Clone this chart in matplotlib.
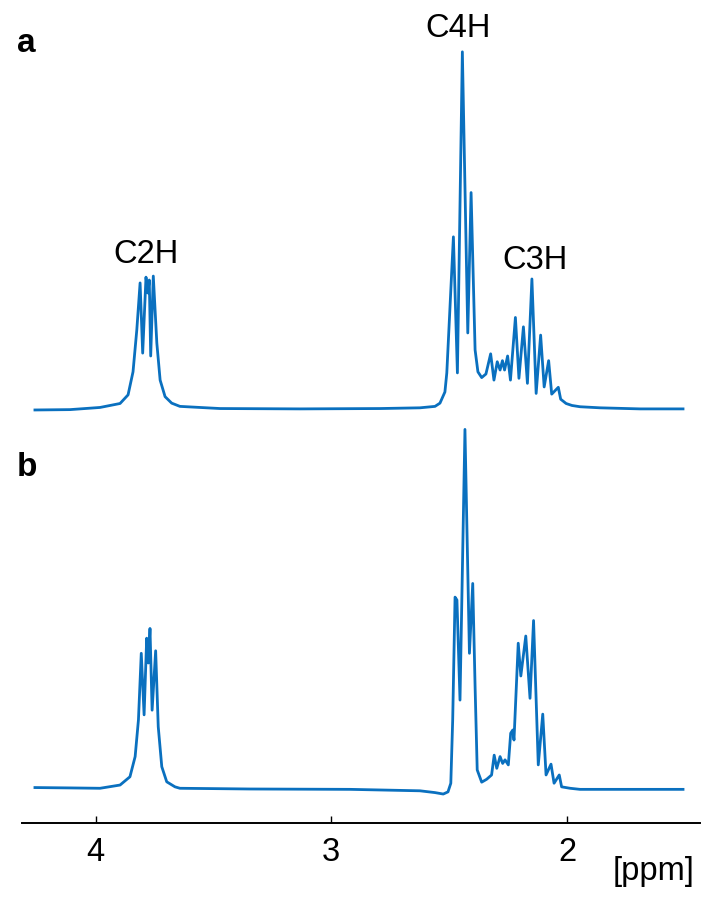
"""
Two stacked 1H NMR spectra (a, b), 1.5-4.3 ppm, C2H / C3H / C4H labelled.
Traces are digitised vertices (ppm, relative intensity; tallest C4H line = 100).
"""

import matplotlib
matplotlib.use("Agg")
import matplotlib.pyplot as plt

plt.rcParams["font.family"] = ["Liberation Sans", "DejaVu Sans"]

# --- spectrum a (top) ---
ppm_a = [4.257, 4.108, 3.981, 3.896, 3.862, 3.841, 3.825, 3.811, 3.800, 3.786,
         3.778, 3.772, 3.766, 3.755, 3.740, 3.726, 3.705, 3.677, 3.642, 3.472,
         3.133, 2.793, 2.624, 2.560, 2.539, 2.518, 2.510, 2.482, 2.465, 2.444,
         2.421, 2.407, 2.390, 2.378, 2.362, 2.344, 2.324, 2.310, 2.296, 2.284,
         2.274, 2.265, 2.252, 2.240, 2.219, 2.204, 2.185, 2.168, 2.149, 2.131,
         2.112, 2.097, 2.078, 2.065, 2.037, 2.027, 2.004, 1.979, 1.945, 1.860,
         1.690, 1.508]
int_a = [0.0, 0.1, 0.7, 1.8, 4.2, 10.6, 22.2, 35.3, 15.8, 36.9,
         32.5, 36.1, 15.0, 37.2, 18.6, 8.3, 3.7, 1.9, 1.0, 0.4,
         0.3, 0.4, 0.6, 1.0, 1.9, 5.0, 10.3, 48.1, 10.3, 99.5,
         21.4, 60.4, 16.7, 10.6, 9.0, 10.0, 15.6, 8.3, 13.4, 11.1,
         13.7, 11.1, 15.0, 8.3, 25.7, 8.8, 23.1, 7.4, 36.4, 4.6,
         20.8, 6.4, 13.7, 4.4, 6.3, 3.0, 1.8, 1.25, 0.9, 0.6,
         0.3, 0.3]

# --- spectrum b (bottom) ---
ppm_b = [4.257, 4.108, 3.981, 3.896, 3.854, 3.832, 3.818, 3.806, 3.794, 3.783,
         3.776, 3.769, 3.760, 3.745, 3.734, 3.719, 3.698, 3.663, 3.642, 3.345,
         2.920, 2.624, 2.560, 2.525, 2.505, 2.493, 2.485, 2.475, 2.467, 2.454,
         2.433, 2.414, 2.400, 2.390, 2.381, 2.362, 2.341, 2.320, 2.309, 2.298,
         2.284, 2.273, 2.263, 2.249, 2.239, 2.230, 2.225, 2.207, 2.196, 2.175,
         2.157, 2.142, 2.122, 2.103, 2.089, 2.068, 2.055, 2.033, 2.023, 1.987,
         1.945, 1.776, 1.508]
int_b = [0.4, 0.3, 0.2, 1.1, 3.4, 9.0, 19.2, 37.7, 20.6, 41.9,
         35.0, 44.6, 21.9, 38.4, 17.3, 6.2, 2.0, 0.6, 0.2, 0.0,
         -0.1, -0.5, -1.0, -1.4, -0.8, 1.6, 19.2, 53.3, 52.5, 24.7,
         99.9, 37.7, 57.1, 28.4, 5.3, 1.9, 2.7, 3.9, 9.4, 5.75,
         9.0, 7.1, 8.1, 6.7, 15.5, 16.4, 13.6, 40.5, 31.4, 42.5,
         25.2, 46.8, 6.7, 20.8, 3.9, 6.9, 1.6, 3.9, 0.6, 0.2,
         -0.1, -0.1, -0.1]

peak_labels = ["C2H", "C4H", "C3H"]
label_ppm = [3.785, 2.461, 2.136]
label_int_a = [40.8, 103.7, 39.3]   # above spectrum a baseline

x_ticks = [4, 3, 2]
panel_labels = ["a", "b"]

OFFSET_A = 105.3     # vertical shift of spectrum a
LINE_COLOR = "#0a70bf"

fig = plt.figure(figsize=(7.09, 9.0), dpi=100)
ax = fig.add_axes([0.031, 0.0859, 0.9563, 0.9141])

ax.plot(ppm_a, [v + OFFSET_A for v in int_a], color=LINE_COLOR, lw=2.0,
        solid_joinstyle="round")
ax.plot(ppm_b, int_b, color=LINE_COLOR, lw=2.0, solid_joinstyle="round")

for lab, xp, yp in zip(peak_labels, label_ppm, label_int_a):
    ax.text(xp, yp + OFFSET_A, lab, ha="center", va="baseline", fontsize=23.5)

ax.set_xlim(4.312, 1.436)
ax.set_ylim(-9.36, 219.2)

for side in ("top", "left", "right"):
    ax.spines[side].set_visible(False)
ax.spines["bottom"].set_linewidth(1.4)
ax.set_yticks([])
ax.set_xticks(x_ticks)
ax.set_xticklabels([str(t) for t in x_ticks])
ax.tick_params(axis="x", direction="in", length=5, width=1.0, pad=10,
               labelsize=23.5)

fig.text(0.980, 0.0222, "[ppm]", ha="right", va="baseline", fontsize=23.5)
fig.text(0.024, 0.9426, panel_labels[0], ha="left", va="baseline",
         fontsize=24, fontweight="bold")
fig.text(0.024, 0.4711, panel_labels[1], ha="left", va="baseline",
         fontsize=24, fontweight="bold")

fig.savefig("out.png", dpi=100)
